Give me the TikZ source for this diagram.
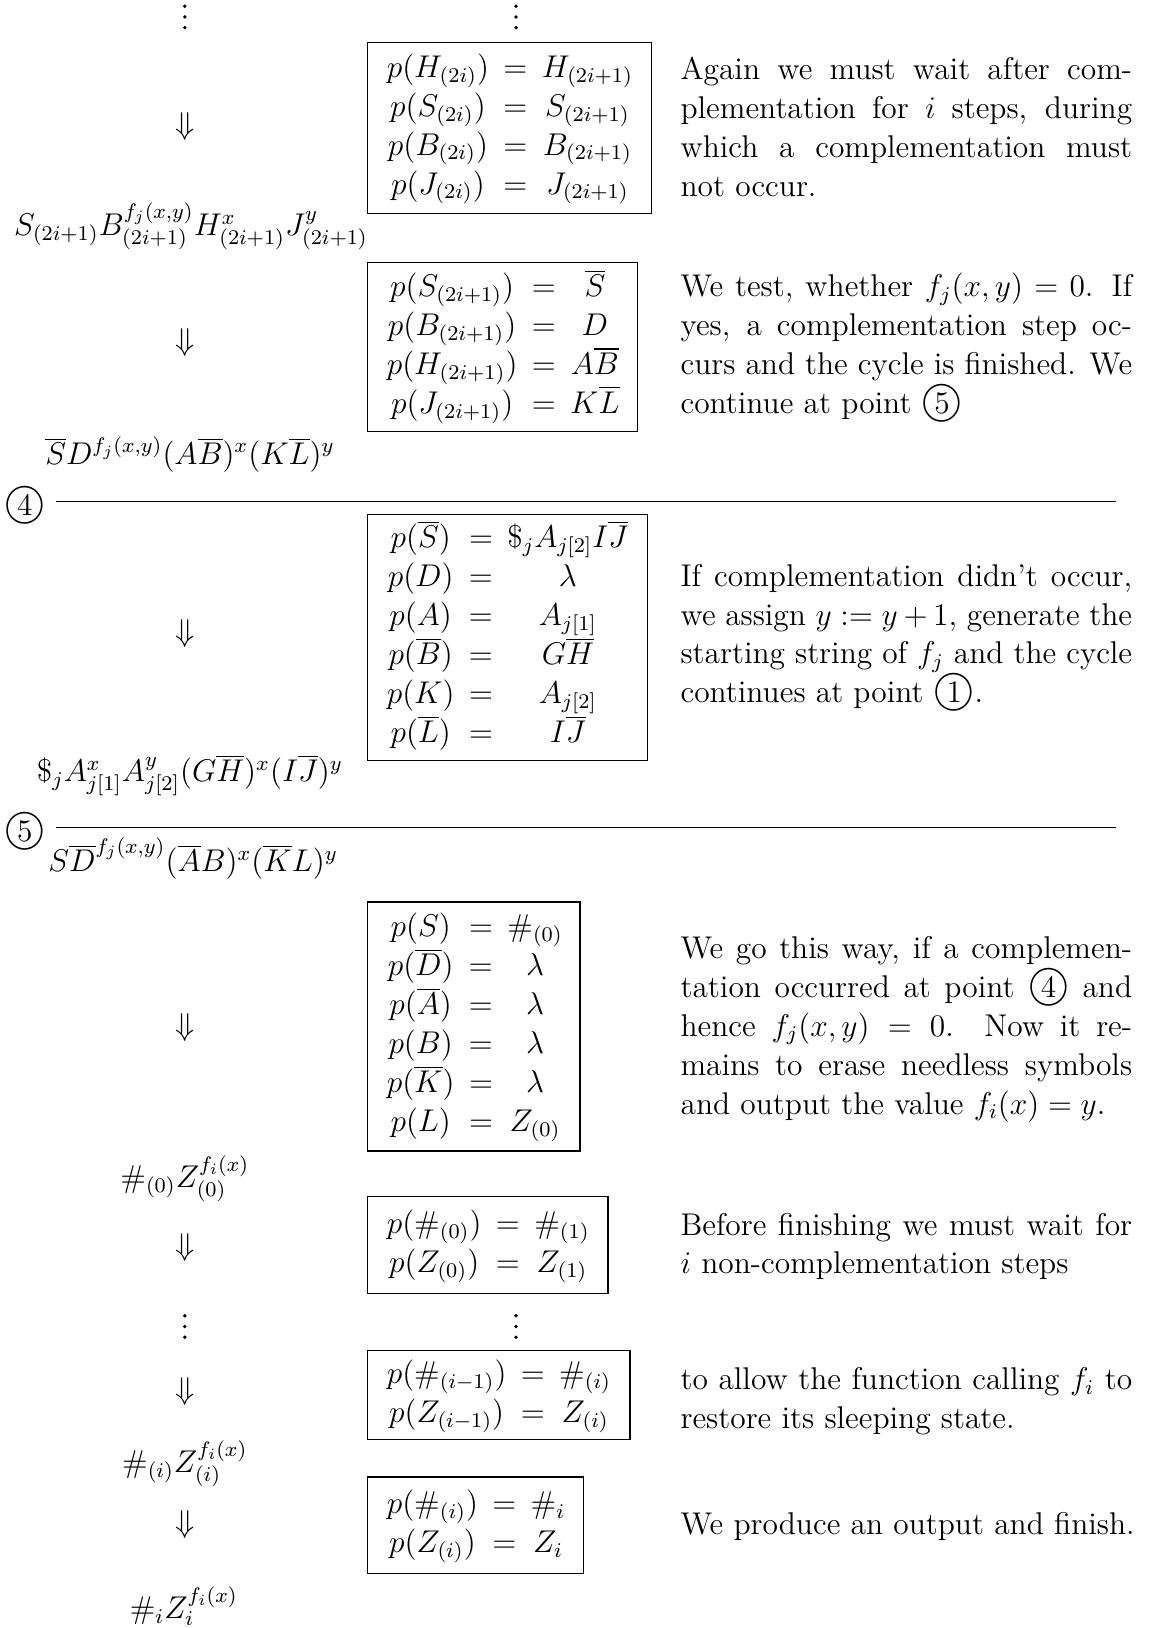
\documentclass[tikz,border=0pt]{standalone}
\newcommand\circnum[1]{\ooalign{\scalebox{1.3}{$\bigcirc$}\cr\hidewidth#1\hidewidth\cr}}
\newcommand\jl[1]{\makebox[172.4pt][s]{#1}}
\begin{document}
\begin{tikzpicture}[x=0.3964pt,y=-0.3964pt,
  every node/.style={font=\fontsize{12}{14.87}\selectfont, inner sep=0pt},
  pbox/.style={draw, line width=0.5pt, anchor=north west, inner xsep=7.5pt, inner ysep=0pt, align=left},
  para/.style={anchor=base west, align=left},
  sepline/.style={line width=0.5pt},
  vdot/.style={fill=black}]
\useasboundingbox (0,0) rectangle (1114,1568);

% vertical dots
\foreach \xx in {178,497}{
  \foreach \yy in {6,16.3,26.6,1267.3,1277.6,1287.9}{
    \fill[vdot] (\xx,\yy) circle[radius=0.72pt];
  }
}

% left column
\node (d1) at (178,122) {$\Downarrow$};
\node (e1) at (184,218) {$S_{(2i+1)}B^{f_j(x,y)}_{(2i+1)}H^x_{(2i+1)}J^y_{(2i+1)}$};
\node (d2) at (178,330) {$\Downarrow$};
\node (e2) at (183,438) {$\overline{S}D^{f_j(x,y)}(A\overline{B})^x(K\overline{L})^y$};
\node (c4) at (24,483) {\circnum{4}};
\coordinate (l4) at (1075,483);
\draw[sepline] ([xshift=4pt]c4.east) -- (l4);
\node (d3) at (178,610) {$\Downarrow$};
\node (e3) at (183,747) {$\$_jA^x_{j[1]}A^y_{j[2]}(G\overline{H})^x(I\overline{J})^y$};
\node (c5) at (24,797) {\circnum{5}};
\coordinate (l5) at (1075,797);
\draw[sepline] ([xshift=4pt]c5.east) -- (l5);
\node (e4) at (186,827) {$S\overline{D}^{f_j(x,y)}(\overline{A}B)^x(\overline{K}L)^y$};
\node (d4) at (178,990) {$\Downarrow$};
\node (e5) at (178,1135) {$\#_{(0)}Z^{f_i(x)}_{(0)}$};
\node (d5) at (178,1202) {$\Downarrow$};
\node (d6) at (178,1340) {$\Downarrow$};
\node (e6) at (178,1410) {$\#_{(i)}Z^{f_i(x)}_{(i)}$};
\node (d7) at (178,1468) {$\Downarrow$};
\node (e7) at (177,1547) {$\#_iZ_i^{f_i(x)}$};

% boxes
\node[pbox, text width=93.6pt, minimum height=65.4pt] (b1) at (353,40) {$\begin{array}{@{}c@{\hspace{5.5pt}}c@{\hspace{5.5pt}}c@{}}
p(H_{(2i)}) & = & H_{(2i+1)}\\
p(S_{(2i)}) & = & S_{(2i+1)}\\
p(B_{(2i)}) & = & B_{(2i+1)}\\
p(J_{(2i)}) & = & J_{(2i+1)}
\end{array}$};
\node[pbox, text width=88.1pt, minimum height=64.6pt] (b2) at (353,252) {$\begin{array}{@{}c@{\hspace{5.5pt}}c@{\hspace{5.5pt}}c@{}}
p(S_{(2i+1)}) & = & \overline{S}\\
p(B_{(2i+1)}) & = & D\\
p(H_{(2i+1)}) & = & A\overline{B}\\
p(J_{(2i+1)}) & = & K\overline{L}
\end{array}$};
\node[pbox, text width=92pt, minimum height=93.9pt] (b3) at (353,495) {$\begin{array}{@{}c@{\hspace{5.5pt}}c@{\hspace{5.5pt}}c@{}}
p(\overline{S}) & = & \$_jA_{j[2]}I\overline{J}\\
p(D) & = & \lambda\\
p(A) & = & A_{j[1]}\\
p(\overline{B}) & = & G\overline{H}\\
p(K) & = & A_{j[2]}\\
p(\overline{L}) & = & I\overline{J}
\end{array}$};
\node[pbox, text width=66.3pt, minimum height=95.1pt] (b4) at (353,868) {$\begin{array}{@{}c@{\hspace{5.5pt}}c@{\hspace{5.5pt}}c@{}}
p(S) & = & \#_{(0)}\\
p(\overline{D}) & = & \lambda\\
p(\overline{A}) & = & \lambda\\
p(B) & = & \lambda\\
p(\overline{K}) & = & \lambda\\
p(L) & = & Z_{(0)}
\end{array}$};
\node[pbox, text width=77pt, minimum height=36.9pt] (b5) at (353,1152) {$\begin{array}{@{}c@{\hspace{5.5pt}}c@{\hspace{5.5pt}}c@{}}
p(\#_{(0)}) & = & \#_{(1)}\\
p(Z_{(0)}) & = & Z_{(1)}
\end{array}$};
\node[pbox, text width=85.3pt, minimum height=34.1pt] (b6) at (353,1300) {$\begin{array}{@{}c@{\hspace{5.5pt}}c@{\hspace{5.5pt}}c@{}}
p(\#_{(i-1)}) & = & \#_{(i)}\\
p(Z_{(i-1)}) & = & Z_{(i)}
\end{array}$};
\node[pbox, text width=67.5pt, minimum height=36.9pt] (b7) at (353,1422) {$\begin{array}{@{}c@{\hspace{5.5pt}}c@{\hspace{5.5pt}}c@{}}
p(\#_{(i)}) & = & \#_i\\
p(Z_{(i)}) & = & Z_i
\end{array}$};

% explanations (anchored at the baseline of the last line)
\node[para] (t1) at (655,189) {\jl{Again we must wait after com-}\\
\jl{plementation for $i$ steps, during}\\
\jl{which a complementation must}\\
not occur.};
\node[para] (t2) at (655,398) {\jl{We test, whether $f_j(x,y)=0$. If}\\
\jl{yes, a complementation step oc-}\\
\jl{curs and the cycle is finished. We}\\
continue at point \circnum{5}};
\node[para] (t3) at (655,677) {\jl{If complementation didn’t occur,}\\
\jl{we assign $y:=y+1$, generate the}\\
\jl{starting string of $f_j$ and the cycle}\\
continues at point \circnum{1}.};
\node[para] (t4) at (655,1073) {\jl{We go this way, if a complemen-}\\
\jl{tation occurred at point \circnum{4} and}\\
\jl{hence $f_j(x,y)=0$. Now it re-}\\
\jl{mains to erase needless symbols}\\
and output the value $f_i(x)=y$.};
\node[para] (t5) at (655,1227) {\jl{Before finishing we must wait for}\\
$i$ non-complementation steps};
\node[para] (t6) at (655,1376) {\jl{to allow the function calling $f_i$ to}\\
restore its sleeping state.};
\node[para] (t7) at (655,1478) {We produce an output and finish.};
\end{tikzpicture}
\end{document}
